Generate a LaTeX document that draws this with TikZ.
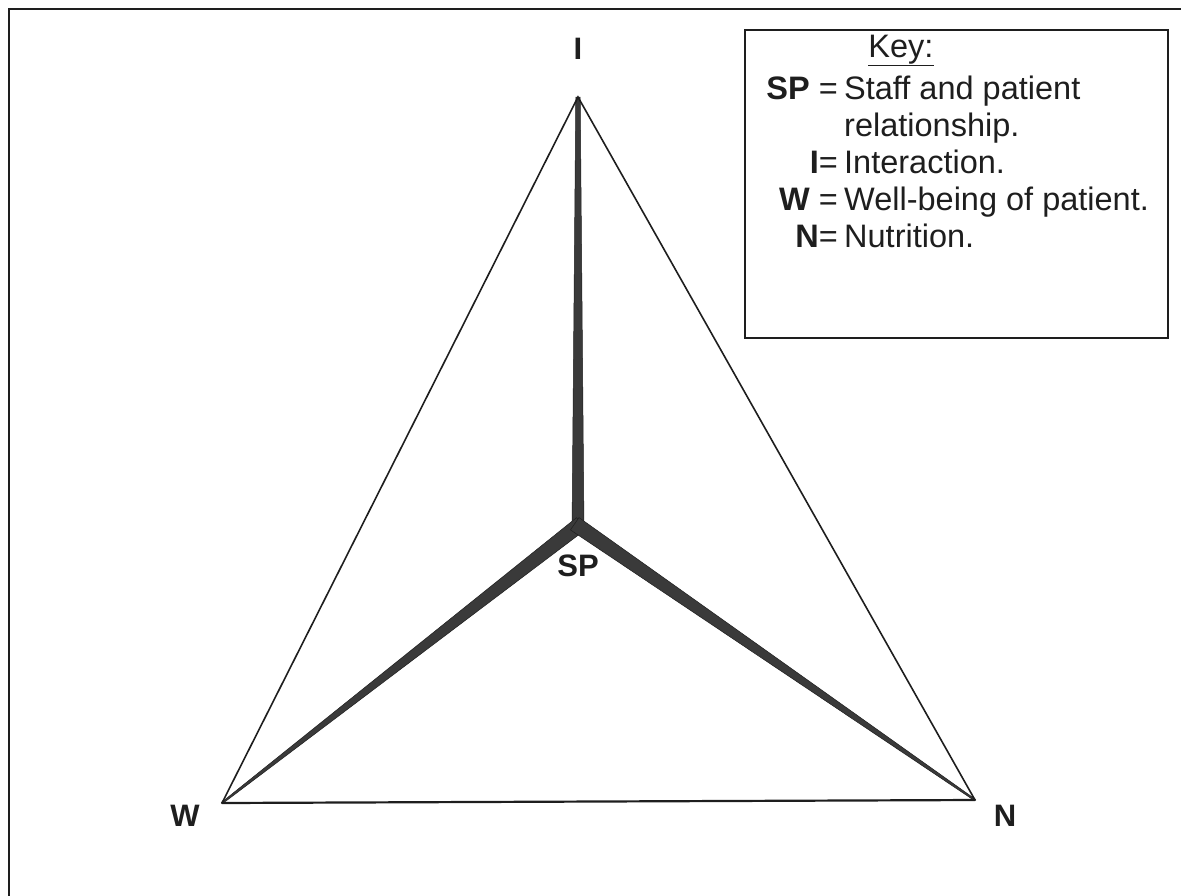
\documentclass[tikz,border=0pt]{standalone}
\usepackage{fontspec}
\setmainfont{Liberation Sans}[Ligatures=NoCommon]
\usetikzlibrary{calc}
\definecolor{ink}{HTML}{1E1E1E}
\definecolor{spokefill}{HTML}{3A3A3A}
% tapered spoke from the centre (C) out to a vertex: #1 vertex, #2 half width at C, #3 half width at the vertex
\newcommand\drawspoke[3]{%
  \coordinate (S) at ($(C)!-4pt!(#1)$);
  \fill[spoke] ($(S)!#2!90:(#1)$) -- ($(#1)!#3!-90:(S)$) -- ($(#1)!#3!90:(S)$) -- ($(S)!#2!-90:(#1)$) -- cycle;
}
\begin{document}
\begin{tikzpicture}[x=1pt,y=-1pt,
  edge/.style={draw=ink, line width=1.6pt, line join=miter},
  spoke/.style={fill=spokefill, draw=ink, line width=0.5pt, line join=round},
  vlabel/.style={font=\bfseries\fontsize{31}{36}\selectfont, text=ink, inner sep=0pt, anchor=base},
  keytext/.style={font=\fontsize{32.5}{37}\selectfont, text=ink, inner sep=0pt, anchor=base west},
  keylabel/.style={font=\fontsize{32.5}{37}\selectfont, text=ink, inner sep=0pt, anchor=base east},
]
\useasboundingbox (0,0) rectangle (1181,895);
\clip (0,0) rectangle (1181,895);

% page frame
\draw[ink, line width=2.2pt] (9,9) rectangle (1240,950);

% vertices and centre
\coordinate (I) at (578,97);
\coordinate (W) at (222,803);
\coordinate (N) at (975,800);
\coordinate (C) at (578,526);

% spokes to the centre
\drawspoke{I}{6pt}{2.2pt}
\drawspoke{W}{7.5pt}{0.8pt}
\drawspoke{N}{7.5pt}{0.8pt}

% outer triangle, base drawn a little heavier
\draw[edge] (W) -- (I) -- (N);
\draw[edge, line width=2.2pt, line cap=round] (W) -- (N);

% vertex labels
\node[vlabel] (lI) at (578,59) {I};
\node[vlabel] (lW) at (185,826) {W};
\node[vlabel] (lN) at (1005,826) {N};
\node[vlabel] (lSP) at (578,576) {SP};

% key
\node[draw=ink, line width=1.8pt, minimum width=423pt, minimum height=308pt, anchor=north west, inner sep=0pt] (keybox) at (744,29) {};
\node[keytext, anchor=base] (keyhead) at (901,57) {\underline{Key:}};
\node[keylabel] (kSP) at (838,99) {\textbf{SP} =};
\node[keytext] (tSP) at (844,99) {Staff and patient};
\node[keytext] (tSP2) at (844,136) {relationship.};
\node[keylabel] (kI) at (838,173) {\textbf{I}=};
\node[keytext] (tI) at (844,173) {Interaction.};
\node[keylabel] (kW) at (838,210) {\textbf{W} =};
\node[keytext] (tW) at (844,210) {Well-being of patient.};
\node[keylabel] (kN) at (838,247) {\textbf{N}=};
\node[keytext] (tN) at (844,247) {Nutrition.};
\end{tikzpicture}
\end{document}
